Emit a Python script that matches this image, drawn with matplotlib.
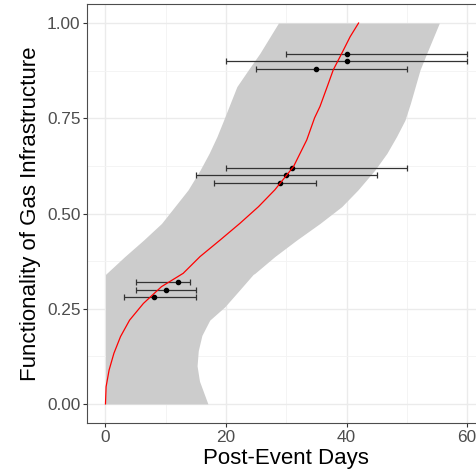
import matplotlib
matplotlib.use("Agg")
import matplotlib.pyplot as plt
import numpy as np

plt.rcParams['font.family'] = ['Liberation Sans', 'DejaVu Sans']

# Observed points with horizontal error bars
pt_x = [40, 40, 35, 31, 30, 29, 12, 10, 8]
pt_y = [0.92, 0.90, 0.88, 0.62, 0.60, 0.58, 0.32, 0.30, 0.28]
pt_xmin = [30, 20, 25, 20, 15, 18, 5, 5, 3]
pt_xmax = [60, 60, 50, 50, 45, 35, 14, 15, 15]

# Uncertainty band (x bounds at each functionality level)
band_y = [0.0, 0.03, 0.06, 0.10, 0.14, 0.18, 0.22, 0.255, 0.30, 0.34, 0.343,
          0.387, 0.43, 0.474, 0.518, 0.562, 0.614, 0.658, 0.702, 0.745,
          0.789, 0.833, 0.877, 0.92, 1.0]
band_lo = [0, 0, 0, 0, 0, 0, 0, 0, 0, 0, 0.2,
           3.2, 6.3, 9.3, 11.5, 13.7, 15.7, 17.2, 18.5, 19.6,
           20.7, 21.8, 23.7, 25.6, 28.7]
band_hi = [17.0, 16.3, 15.6, 15.2, 15.4, 16.0, 17.3, 19.8, 22.3, 24.5, 24.8,
           28.1, 31.7, 35.6, 39.2, 41.9, 44.7, 46.7, 48.3, 49.7,
           50.6, 51.4, 52.2, 53.3, 55.4]

# Fitted recovery curve
curve_y = [0.0, 0.045, 0.089, 0.133, 0.177, 0.22, 0.264, 0.308, 0.343, 0.387,
           0.43, 0.474, 0.518, 0.562, 0.623, 0.693, 0.751, 0.781, 0.833,
           0.877, 0.92, 0.964, 1.0]
curve_x = [0.0, 0.1, 0.6, 1.4, 2.5, 4.0, 6.3, 9.3, 12.9, 15.7,
           19.0, 22.3, 25.4, 28.1, 31.2, 33.4, 34.7, 35.6, 36.8,
           37.8, 39.2, 40.6, 42.0]

x_ticks = [0, 20, 40, 60]
y_ticks = [0.0, 0.25, 0.50, 0.75, 1.00]
y_ticklabels = ["0.00", "0.25", "0.50", "0.75", "1.00"]

fig = plt.figure(figsize=(4.77, 4.71), dpi=100)
ax = fig.add_axes([87.4 / 477, 1 - 423 / 471, 397.7 / 477, 419 / 471])

ax.fill_betweenx(band_y, band_lo, band_hi, color='#cccccc', linewidth=0, zorder=1)

xerr = [np.array(pt_x) - np.array(pt_xmin), np.array(pt_xmax) - np.array(pt_x)]
ax.errorbar(pt_x, pt_y, xerr=xerr, fmt='o', color='black', markersize=3,
            ecolor='#333333', elinewidth=0.9, capsize=2.5, capthick=0.9, zorder=3)

ax.plot(curve_x, curve_y, color='red', linewidth=0.9, zorder=4)

ax.set_xlim(-3, 63)
ax.set_ylim(-0.05, 1.05)
ax.set_xticks(x_ticks)
ax.set_yticks(y_ticks)
ax.set_yticklabels(y_ticklabels)
ax.set_xticks([10, 30, 50], minor=True)
ax.set_yticks([0.125, 0.375, 0.625, 0.875], minor=True)

ax.grid(True, which='major', color='#ebebeb', linewidth=1.0, zorder=0)
ax.grid(True, which='minor', color='#f3f3f3', linewidth=0.6, zorder=0)
ax.set_axisbelow(True)

ax.tick_params(axis='both', which='major', length=2.8, width=0.8, color='#333333',
               labelcolor='#4d4d4d', labelsize=12.4, pad=2.2)
ax.tick_params(axis='both', which='minor', length=0)

for s in ['left', 'bottom', 'top', 'right']:
    ax.spines[s].set_color('#4d4d4d')
    ax.spines[s].set_linewidth(0.8)

ax.set_xlabel("Post-Event Days", fontsize=16, color='black', labelpad=2)
ax.set_ylabel("Functionality of Gas Infrastructure", fontsize=16, color='black', labelpad=4)

fig.savefig("out.png", dpi=100)
